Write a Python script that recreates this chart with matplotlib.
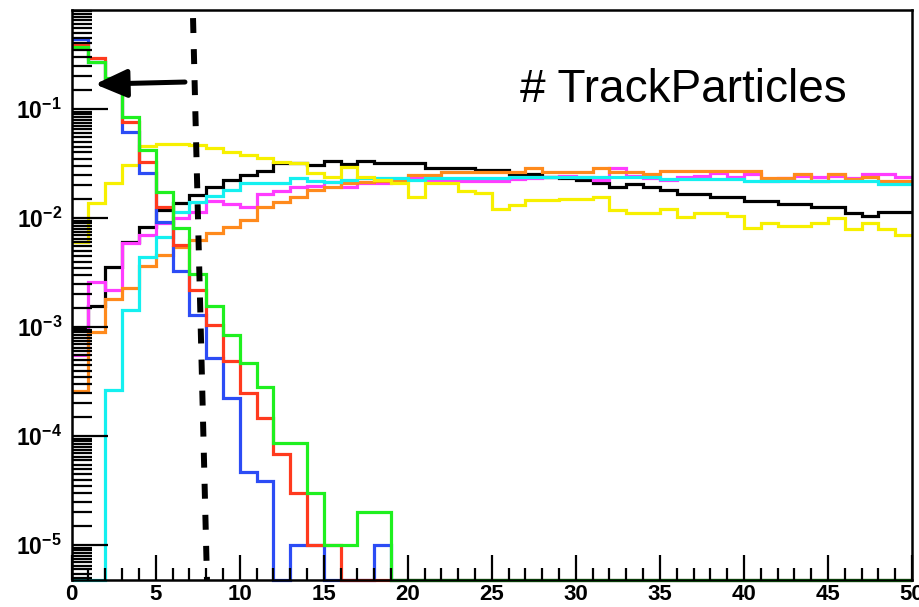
import numpy as np
import matplotlib
matplotlib.use("Agg")
import matplotlib.pyplot as plt
from matplotlib.ticker import MultipleLocator, LogLocator, NullFormatter

plt.rcParams["font.family"] = ["Liberation Sans", "DejaVu Sans"]
plt.rcParams["mathtext.fontset"] = "custom"
plt.rcParams["mathtext.rm"] = "Liberation Sans:bold"
plt.rcParams["mathtext.bf"] = "Liberation Sans:bold"
plt.rcParams["mathtext.it"] = "Liberation Sans:bold"
plt.rcParams["mathtext.default"] = "rm"

# bin edges of the multiplicity histograms (0..50, unit width)
bin_edges = np.arange(0, 51)

# normalised number of track particles per event, one array per sample
blue = [0.44, 0.27, 0.19, 0.0615, 0.0259, 0.0092, 0.0033, 0.00129, 0.00052, 0.000223,
        4.7e-5, 3.9e-5, 0, 1e-5, 1e-5, 0, 0, 0, 1e-5] + [0] * 31
red = [0.386, 0.294, 0.184, 0.076, 0.0327, 0.0126, 0.00565, 0.00218, 0.00104, 0.00049,
       0.00025, 0.000146, 6.8e-5, 3.0e-5, 1e-5, 1e-5] + [0] * 34
green = [0.371, 0.270, 0.192, 0.0845, 0.042, 0.0173, 0.0081, 0.0031, 0.00156, 0.00085,
         0.00047, 0.00028, 8.6e-5, 8.6e-5, 3.0e-5, 1e-5, 1e-5, 2e-5, 2e-5] + [0] * 31
black = [9.8e-4, 1.55e-3, 3.55e-3, 6.0e-3, 8.3e-3, 0.0118, 0.0137, 0.0163, 0.0192, 0.0223,
         0.0248, 0.0270, 0.0320, 0.0320, 0.0306, 0.0333, 0.0313, 0.0333, 0.0320, 0.0320,
         0.0320, 0.0288, 0.0288, 0.0288, 0.0276, 0.0276, 0.0253, 0.0253, 0.0238, 0.0233,
         0.0223, 0.0209, 0.0192, 0.0205, 0.0192, 0.0181, 0.0166, 0.0166, 0.0156, 0.0156,
         0.0143, 0.0143, 0.0134, 0.0134, 0.0126, 0.0126, 0.0111, 0.0104, 0.0113, 0.0113]
magenta = [5.5e-4, 2.6e-3, 2.2e-3, 5.9e-3, 7.0e-3, 9.0e-3, 0.0100, 0.0113, 0.0143, 0.0134,
           0.0126, 0.0166, 0.0177, 0.0192, 0.0197, 0.0214, 0.0192, 0.0209, 0.0209, 0.0228,
           0.0238, 0.0223, 0.0223, 0.0219, 0.0219, 0.0219, 0.0228, 0.0233, 0.0238, 0.0243,
           0.0238, 0.0223, 0.0288, 0.0243, 0.0233, 0.0223, 0.0238, 0.0243, 0.0259, 0.0238,
           0.0253, 0.0219, 0.0233, 0.0243, 0.0238, 0.0243, 0.0233, 0.0253, 0.0253, 0.0238]
orange = [2.6e-4, 9.0e-4, 1.8e-3, 2.3e-3, 3.6e-3, 4.6e-3, 5.4e-3, 6.3e-3, 7.3e-3, 8.3e-3,
          9.6e-3, 0.0126, 0.0140, 0.0156, 0.0181, 0.0192, 0.0209, 0.0214, 0.0219, 0.0223,
          0.0248, 0.0248, 0.0264, 0.0264, 0.0264, 0.0264, 0.0264, 0.0288, 0.0264, 0.0264,
          0.0264, 0.0288, 0.0264, 0.0264, 0.0253, 0.0270, 0.0270, 0.0270, 0.0270, 0.0270,
          0.0270, 0.0233, 0.0233, 0.0253, 0.0219, 0.0253, 0.0228, 0.0238, 0.0219, 0.0219]
cyan = [0, 0, 2.64e-4, 1.43e-3, 4.4e-3, 6.7e-3, 0.0113, 0.0140, 0.0159, 0.0181,
        0.0209, 0.0209, 0.0209, 0.0233, 0.0218, 0.0214, 0.0223, 0.0233, 0.0233, 0.0233,
        0.0223, 0.0233, 0.0233, 0.0233, 0.0233, 0.0233, 0.0238, 0.0238, 0.0238, 0.0238,
        0.0238, 0.0238, 0.0238, 0.0238, 0.0238, 0.0228, 0.0228, 0.0228, 0.0228, 0.0228,
        0.0218, 0.0218, 0.0218, 0.0218, 0.0218, 0.0218, 0.0218, 0.0218, 0.0205, 0.0205]
yellow = [0.0060, 0.0137, 0.0210, 0.0306, 0.046, 0.048, 0.048, 0.047, 0.0438, 0.0403,
          0.0379, 0.0355, 0.0327, 0.0320, 0.0259, 0.0238, 0.0294, 0.0238, 0.0223, 0.0209,
          0.0156, 0.0209, 0.0209, 0.0177, 0.0170, 0.0121, 0.0132, 0.0146, 0.0146, 0.0149,
          0.0149, 0.0156, 0.0118, 0.0111, 0.0111, 0.0121, 0.0102, 0.0111, 0.0111, 0.0104,
          0.0081, 0.0090, 0.00845, 0.00845, 0.0090, 0.0100, 0.0079, 0.0090, 0.0079, 0.0070]

# drawing order: later entries sit on top
hists = [
    (black, "#000000"),
    (magenta, "#ff3cff"),
    (orange, "#ff8a1c"),
    (cyan, "#14f0f0"),
    (yellow, "#f7f000"),
    (blue, "#2c4cf5"),
    (red, "#ff3a1e"),
    (green, "#1ff01f"),
]

# cut position and arrow (x, y in data units)
cut_x = [7.22, 8.05]
cut_y = [0.683, 4.8e-6]
arrow_tail = (6.74, 0.177)
arrow_head = (1.39, 0.169)

y_major = [1e-5, 1e-4, 1e-3, 1e-2, 1e-1]
y_major_labels = [r"$10^{-5}$", r"$10^{-4}$", r"$10^{-3}$", r"$10^{-2}$", r"$10^{-1}$"]
x_major = [0, 5, 10, 15, 20, 25, 30, 35, 40, 45, 50]
x_major_labels = ["0", "5", "10", "15", "20", "25", "30", "35", "40", "45", "50"]

YMIN, YMAX = 4.8e-6, 0.81

fig = plt.figure(figsize=(9.19, 6.07), dpi=100)
ax = fig.add_axes([0.078, 0.0445, 0.9144, 0.939])
ax.set_yscale("log")
ax.set_xlim(0, 50)
ax.set_ylim(YMIN, YMAX)

for vals, col in hists:
    v = np.clip(np.asarray(vals, dtype=float), YMIN, None)
    ax.stairs(v, bin_edges, baseline=None, color=col, lw=2.3, clip_on=False)

ax.plot(cut_x, cut_y, color="black", lw=4.3, linestyle=(0, (2.5, 2.7)))
ax.annotate("", xy=arrow_head, xytext=arrow_tail,
            arrowprops=dict(arrowstyle="-|>,head_length=0.97,head_width=0.43",
                            color="black", lw=3.6, mutation_scale=20,
                            shrinkA=0, shrinkB=0))

fig.text(520 / 919, 1 - 102 / 607, "# TrackParticles", fontsize=33,
         ha="left", va="baseline", family=["Liberation Sans", "DejaVu Sans"])

# ROOT-like axes: inward ticks on left and bottom only
ax.set_yticks(y_major, labels=y_major_labels)
ax.yaxis.set_minor_locator(LogLocator(base=10, subs=np.arange(1.5, 10, 0.5), numticks=50))
ax.yaxis.set_minor_formatter(NullFormatter())
ax.set_xticks(x_major, labels=x_major_labels)
ax.xaxis.set_minor_locator(MultipleLocator(1))

ax.tick_params(axis="y", which="major", direction="in", length=26, width=1.6,
               labelsize=16.5, pad=7)
ax.tick_params(axis="y", which="minor", direction="in", length=14.5, width=1.6)
ax.tick_params(axis="x", which="major", direction="in", length=18, width=1.6,
               labelsize=16, pad=3)
ax.tick_params(axis="x", which="minor", direction="in", length=8.5, width=1.6)
for lab in ax.get_xticklabels():
    lab.set_fontweight("bold")
for sp in ax.spines.values():
    sp.set_linewidth(1.8)

fig.savefig("out.png", dpi=100)
